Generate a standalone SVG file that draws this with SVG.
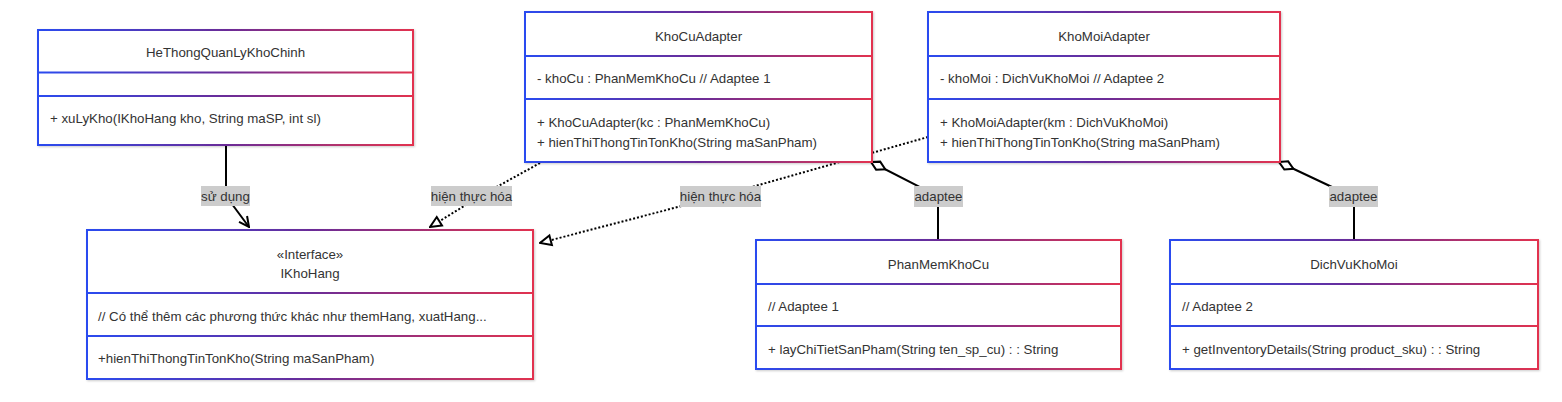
<svg xmlns="http://www.w3.org/2000/svg" width="1562" height="402" viewBox="0 0 1562 402">
<defs>
<linearGradient id="g" x1="0" y1="0" x2="1" y2="0">
<stop offset="0" stop-color="#2a4bf0"/>
<stop offset="0.5" stop-color="#6a2c98"/>
<stop offset="1" stop-color="#e2334f"/>
</linearGradient>
<filter id="sh" x="-5%" y="-5%" width="110%" height="115%">
<feDropShadow dx="1" dy="1" stdDeviation="1" flood-color="#000" flood-opacity="0.2"/>
</filter>
<marker id="open" viewBox="0 0 12 12" refX="11" refY="6" markerWidth="12" markerHeight="12" markerUnits="userSpaceOnUse" orient="auto">
<path d="M1,1 L11,6 L1,11" fill="none" stroke="#000" stroke-width="2"/>
</marker>
<marker id="tri" viewBox="0 0 14 14" refX="13" refY="7" markerWidth="14" markerHeight="14" markerUnits="userSpaceOnUse" orient="auto">
<path d="M2,2 L13,7 L2,12 Z" fill="#fff" stroke="#000" stroke-width="2"/>
</marker>
<marker id="dia" viewBox="0 0 20 12" refX="1" refY="6" markerWidth="20" markerHeight="12" markerUnits="userSpaceOnUse" orient="auto">
<path d="M1,6 L9,1.5 L17,6 L9,10.5 Z" fill="#fff" stroke="#000" stroke-width="2"/>
</marker>
</defs>
<style>
.box{fill:#fff;stroke:url(#g);stroke-width:2;filter:url(#sh)}
.div{fill:url(#g)}
.t{font-family:"Liberation Sans",Arial,sans-serif;font-size:13.3px;fill:#333}
.c{text-anchor:middle}
.e{fill:none;stroke:#000;stroke-width:2}
.d{stroke-dasharray:2,2}
.lb{fill:#cccccc}
</style>
<rect width="1562" height="402" fill="#fff"/>
<g id="connectors">
<path class="e" d="M226,145 L226,196 L249,227" marker-end="url(#open)"/>
<path class="e d" d="M540,163 L482,195 L430,227" marker-end="url(#tri)"/>
<path class="e d" d="M928,137 L720,196 L540,243" marker-end="url(#tri)"/>
<path class="e" d="M871,162 L920,187 L938,198 L938,240" marker-start="url(#dia)"/>
<path class="e" d="M1279,162 L1332,187 L1354,198 L1354,240" marker-start="url(#dia)"/>
</g>
<g id="HeThongQuanLyKhoChinh">
<rect class="box" x="38" y="30" width="375" height="115"/>
<rect class="div" x="38" y="71.5" width="375" height="2"/>
<rect class="div" x="38" y="95" width="375" height="2"/>
<text class="t c" x="225.5" y="56.5">HeThongQuanLyKhoChinh</text>
<text class="t" x="50" y="122.5">+ xuLyKho(IKhoHang kho, String maSP, int sl)</text>
</g>
<g id="IKhoHang">
<rect class="box" x="87" y="230" width="446" height="149"/>
<rect class="div" x="87" y="292" width="446" height="2"/>
<rect class="div" x="87" y="335" width="446" height="2"/>
<text class="t c" x="310" y="258.5">«Interface»</text>
<text class="t c" x="310" y="277.5">IKhoHang</text>
<text class="t" x="98" y="320.5">// Có thể thêm các phương thức khác như themHang, xuatHang...</text>
<text class="t" x="98" y="362.5">+hienThiThongTinTonKho(String maSanPham)</text>
</g>
<g id="KhoCuAdapter">
<rect class="box" x="525" y="12" width="347" height="150"/>
<rect class="div" x="525" y="55" width="347" height="2"/>
<rect class="div" x="525" y="98" width="347" height="2"/>
<text class="t c" x="698.5" y="40.5">KhoCuAdapter</text>
<text class="t" x="537" y="82.5">- khoCu : PhanMemKhoCu // Adaptee 1</text>
<text class="t" x="537" y="126.5">+ KhoCuAdapter(kc : PhanMemKhoCu)</text>
<text class="t" x="537" y="146.5">+ hienThiThongTinTonKho(String maSanPham)</text>
</g>
<g id="KhoMoiAdapter">
<rect class="box" x="928" y="12" width="352" height="150"/>
<rect class="div" x="928" y="55" width="352" height="2"/>
<rect class="div" x="928" y="98" width="352" height="2"/>
<text class="t c" x="1104" y="40.5">KhoMoiAdapter</text>
<text class="t" x="940" y="82.5">- khoMoi : DichVuKhoMoi // Adaptee 2</text>
<text class="t" x="940" y="126.5">+ KhoMoiAdapter(km : DichVuKhoMoi)</text>
<text class="t" x="940" y="146.5">+ hienThiThongTinTonKho(String maSanPham)</text>
</g>
<g id="PhanMemKhoCu">
<rect class="box" x="756" y="240" width="365" height="129"/>
<rect class="div" x="756" y="283" width="365" height="2"/>
<rect class="div" x="756" y="325" width="365" height="2"/>
<text class="t c" x="938.5" y="268.5">PhanMemKhoCu</text>
<text class="t" x="768" y="310.5">// Adaptee 1</text>
<text class="t" x="768" y="353.5">+ layChiTietSanPham(String ten_sp_cu) : : String</text>
</g>
<g id="DichVuKhoMoi">
<rect class="box" x="1170" y="240" width="368" height="129"/>
<rect class="div" x="1170" y="283" width="368" height="2"/>
<rect class="div" x="1170" y="325" width="368" height="2"/>
<text class="t c" x="1354" y="268.5">DichVuKhoMoi</text>
<text class="t" x="1182" y="310.5">// Adaptee 2</text>
<text class="t" x="1182" y="353.5">+ getInventoryDetails(String product_sku) : : String</text>
</g>
<g id="labels">
<rect class="lb" x="201" y="186" width="49" height="20"/>
<text class="t c" x="225.5" y="200.5">sử dụng</text>
<rect class="lb" x="431" y="186" width="81" height="20"/>
<text class="t c" x="471.5" y="200.5">hiện thực hóa</text>
<rect class="lb" x="680" y="186" width="81" height="21"/>
<text class="t c" x="720.5" y="201">hiện thực hóa</text>
<rect class="lb" x="914" y="186" width="49" height="21"/>
<text class="t c" x="938.5" y="201">adaptee</text>
<rect class="lb" x="1329" y="186" width="49" height="21"/>
<text class="t c" x="1353.5" y="201">adaptee</text>
</g>
</svg>
